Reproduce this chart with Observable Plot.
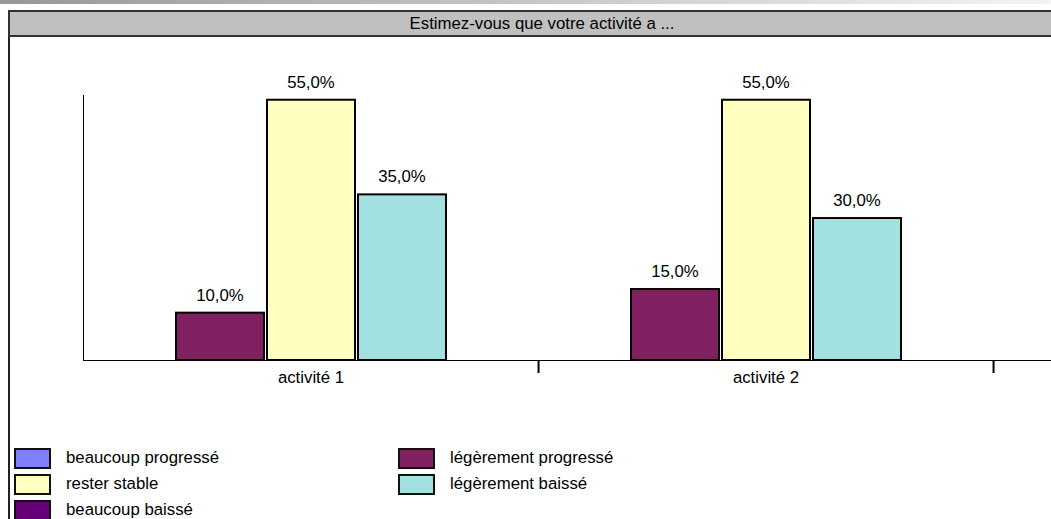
<!DOCTYPE html>
<html><head><meta charset="utf-8">
<script src="https://cdn.jsdelivr.net/npm/d3@7"></script>
<script src="https://cdn.jsdelivr.net/npm/@observablehq/plot@0.6"></script>
<style>
html,body{margin:0;padding:0;width:1051px;height:519px;overflow:hidden;background:#fff;font-family:"Liberation Sans",Arial,sans-serif;color:#000;}
#topbar{position:absolute;left:0;top:0;width:1051px;height:4px;background:linear-gradient(to right,#989898,#f4f4f4);}
#frameLeft{position:absolute;left:8px;top:10px;width:2px;height:509px;background:#222;}
#title{position:absolute;left:8px;top:10px;width:1066px;height:27px;box-sizing:border-box;background:#c0c0c0;border:2px solid #333;border-right:none;text-align:center;font-size:16.8px;line-height:23px;}
#chart{position:absolute;left:0;top:0;}
#legend{position:absolute;left:14px;top:448px;display:grid;grid-template-columns:384px 384px;grid-auto-rows:26px;font-size:16.8px;}
.item{display:flex;align-items:flex-start;}
.sw{width:37px;height:21px;box-sizing:border-box;border:2px solid #111;flex:none;}
.lb{margin-left:15px;line-height:19px;}
</style></head>
<body>
<div id="topbar"></div>
<div id="frameLeft"></div>
<div id="title">Estimez-vous que votre activité a ...</div>
<div id="chart"></div>
<div id="legend"></div>
<script>
const titleText = "Estimez-vous que votre activité a ...";
const categories = ["activité 1", "activité 2"];
const series = ["beaucoup progressé", "légèrement progressé", "rester stable", "légèrement baissé", "beaucoup baissé"];
const valuesActivite1 = [0, 10, 55, 35, 0];
const valuesActivite2 = [0, 15, 55, 30, 0];
const seriesColors = ["#8080ff", "#802060", "#ffffc0", "#a3e0e0", "#660077"];

const allValues = [valuesActivite1, valuesActivite2];
const table = [];
categories.forEach((c, i) => series.forEach((s, j) => table.push({cat: c, series: s, value: allValues[i][j]})));
const fmt = v => v.toFixed(1).replace(".", ",") + "%";

const font = '"Liberation Sans", Arial, sans-serif';
const chart = Plot.plot({
  width: 1051, height: 400,
  marginTop: 95, marginBottom: 40, marginLeft: 82, marginRight: 58,
  style: {background: "transparent", fontFamily: font, fontSize: "16.8px", color: "#000"},
  fx: {domain: categories, padding: 0, label: null, tickSize: 0, tickPadding: 11},
  x: {domain: series, padding: 0, axis: null},
  y: {domain: [0, 56], axis: "left", ticks: [], tickSize: 0, line: true, label: null},
  color: {domain: series, range: seriesColors},
  marks: [
    Plot.barY(table.filter(d => d.value > 0), {fx: "cat", x: "series", y: "value", fill: "series", stroke: "#000", strokeWidth: 2, insetLeft: 2, insetRight: 1}),
    Plot.ruleY([0], {insetRight: -58, stroke: "#000", strokeWidth: 1}),
    Plot.text(table.filter(d => d.value > 0), {fx: "cat", x: "series", y: "value", text: d => fmt(d.value), dy: -18, fontSize: 16.8, fill: "#000"}),
    Plot.ruleX(categories, {fx: d => d, x: () => series[series.length - 1], dx: 45.55, insetTop: 266, insetBottom: -13, stroke: "#000", strokeWidth: 2})
  ]
});
document.getElementById("chart").appendChild(chart);

const legend = document.getElementById("legend");
series.forEach((s, i) => {
  const it = document.createElement("div");
  it.className = "item";
  it.innerHTML = `<div class="sw" style="background:${seriesColors[i]}"></div><div class="lb">${s}</div>`;
  legend.appendChild(it);
});
</script>
</body></html>
